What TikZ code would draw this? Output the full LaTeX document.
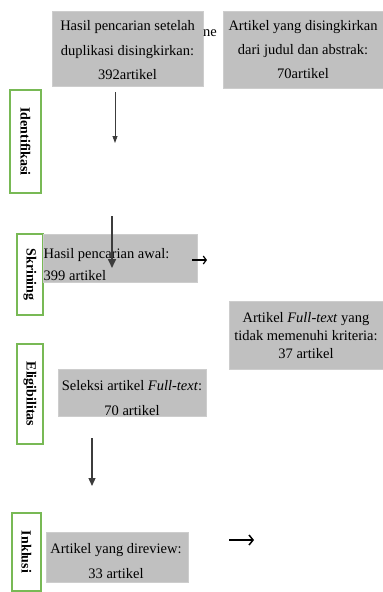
\documentclass[tikz,border=0pt]{standalone}
\usepackage{fontspec}
\setmainfont{Liberation Serif}
\usetikzlibrary{arrows.meta}
\definecolor{boxgray}{RGB}{192,192,192}
\definecolor{phasegreen}{RGB}{120,185,85}
\definecolor{arrowgray}{RGB}{60,60,60}
\tikzset{
  graybox/.style={fill=boxgray, draw=boxgray!80!white, line width=0.6pt, inner sep=0pt, align=center,
    font=\fontsize{14.5}{24}\selectfont},
  phasebox/.style={draw=phasegreen, fill=white, line width=1.2pt, inner sep=0pt},
  phasetext/.style={rotate=-90, font=\bfseries\fontsize{14}{16}\selectfont, inner sep=0pt},
  plaintext/.style={inner sep=0pt, font=\fontsize{14.5}{22}\selectfont},
  flowarrow/.style={draw=arrowgray, line width=1pt, -{Triangle[width=6pt,length=7pt]}},
  sidearrow/.style={draw=black, line width=2pt, -{Straight Barb[length=4pt,width=10pt,line width=1.5pt]}}
}
\begin{document}
\begin{tikzpicture}[x=1pt,y=-1pt]
\useasboundingbox (0,0) rectangle (383,592);
% top boxes
\node[graybox, minimum width=151pt, minimum height=75pt] (dup) at (127.5,48.5) {};
\node[plaintext, align=center, font=\fontsize{14.5}{24.5}\selectfont] (duptext) at (127.5,50.5)
  {Hasil pencarian setelah\\duplikasi disingkirkan:\\392artikel};
\node[plaintext, anchor=west] (ne) at (203,33) {ne};
\node[graybox, minimum width=160pt, minimum height=77pt] (judul) at (303,49.5)
  {Artikel yang disingkirkan\\dari judul dan abstrak:\\70artikel};
% phase labels
\node[phasebox, minimum width=31pt, minimum height=103pt] (ident) at (25.5,141.5) {};
\node[phasetext] at (ident.center) {Identifikasi};
\node[phasebox, minimum width=26pt, minimum height=81pt] (skr) at (30,274.5) {};
\node[phasetext] at (skr.center) {Skrining};
\node[phasebox, minimum width=26pt, minimum height=100pt] (elig) at (30,394) {};
\node[phasetext] at (elig.center) {Eligibilitas};
\node[phasebox, minimum width=29pt, minimum height=78pt] (inkl) at (26.5,552) {};
\node[phasetext] at (inkl.center) {Inklusi};
% screening box
\node[graybox, minimum width=154pt, minimum height=48pt] (awal) at (120,258) {};
\node[plaintext, anchor=west, align=left] (awaltext) at (43.5,265) {Hasil pencarian awal:\\399 artikel};
% full-text excluded
\node[graybox, minimum width=154pt, minimum height=68pt, font=\fontsize{14.5}{18}\selectfont] (tidak) at (306,335.5)
  {Artikel \textit{Full-text} yang\\tidak memenuhi kriteria:\\37 artikel};
% selection
\node[graybox, minimum width=148pt, minimum height=47pt] (seleksi) at (132,392.5) {};
\node[plaintext, align=center, font=\fontsize{14.5}{25}\selectfont] (seleksitext) at (132,398.5)
  {Seleksi artikel \textit{Full-text}:\\70 artikel};
% included
\node[graybox, minimum width=142pt, minimum height=50pt] (review) at (117,557) {};
\node[plaintext, align=center, font=\fontsize{14.5}{25}\selectfont] (reviewtext) at (116,561.5)
  {Artikel yang direview:\\33 artikel};
% arrows (free ends as coordinates)
\coordinate (a1s) at (115,92);
\coordinate (a1e) at (115,143);
\draw[flowarrow, line width=0.8pt, -{Triangle[width=5pt,length=7pt]}] (a1s) -- (a1e);
\coordinate (a2s) at (112,216);
\coordinate (a2e) at (112,268);
\draw[flowarrow, line width=1.6pt, -{Triangle[width=8pt,length=9pt]}] (a2s) -- (a2e);
\coordinate (a3s) at (92,438);
\coordinate (a3e) at (92,486);
\draw[flowarrow, line width=1.3pt, -{Triangle[width=7pt,length=8pt]}] (a3s) -- (a3e);
\coordinate (h1s) at (192,260);
\coordinate (h1e) at (207,260);
\draw[sidearrow, line width=1.4pt, -{Straight Barb[length=3pt,width=8pt,line width=1.2pt]}] (h1s) -- (h1e);
\coordinate (h2s) at (229,540);
\coordinate (h2e) at (254,540);
\draw[sidearrow] (h2s) -- (h2e);
\end{tikzpicture}
\end{document}
